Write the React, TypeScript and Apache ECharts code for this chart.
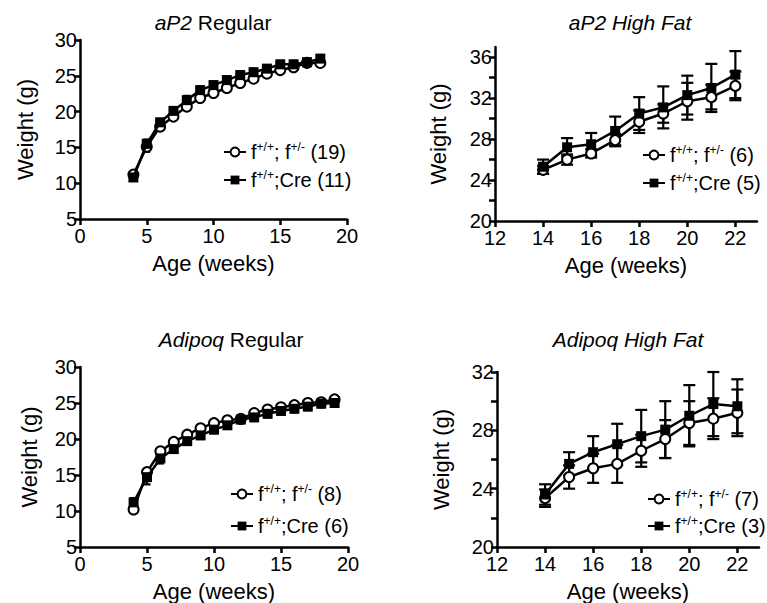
import React, { useEffect, useRef } from "react";
import * as echarts from "echarts";

// ---------- data ----------
const ageAp2Reg = [4, 5, 6, 7, 8, 9, 10, 11, 12, 13, 14, 15, 16, 17, 18];
const ap2RegCtrl = [11.2, 15.1, 17.9, 19.3, 20.7, 21.9, 22.6, 23.3, 24.0, 24.6, 25.3, 25.8, 26.2, 26.8, 26.8];
const ap2RegCtrlErr = [0.4, 0.7, 0.5, 0.4, 0.5, 0.4, 0.4, 0.4, 0.4, 0.4, 0.4, 0.4, 0.4, 0.4, 0.4];
const ap2RegCre = [10.8, 15.5, 18.5, 20.1, 21.6, 23.0, 23.7, 24.4, 25.1, 25.5, 26.0, 26.6, 26.6, 26.9, 27.4];
const ap2RegCreErr = [0.4, 0.6, 0.5, 0.5, 0.6, 0.5, 0.5, 0.5, 0.5, 0.5, 0.5, 0.5, 0.5, 0.5, 0.5];

const ageAp2HF = [14, 15, 16, 17, 18, 19, 20, 21, 22];
const ap2HFCtrl = [25.0, 26.0, 26.6, 27.9, 29.7, 30.5, 31.7, 32.1, 33.2];
const ap2HFCtrlErr = [0.4, 0.5, 0.4, 0.6, 1.1, 0.9, 1.8, 1.2, 1.4];
const ap2HFCre = [25.3, 27.2, 27.5, 28.8, 30.5, 31.1, 32.3, 33.0, 34.3];
const ap2HFCreErr = [0.7, 0.9, 1.1, 1.4, 1.6, 2.05, 1.9, 2.35, 2.3];

const ageAdiReg = [4, 5, 6, 7, 8, 9, 10, 11, 12, 13, 14, 15, 16, 17, 18, 19];
const adiRegCtrl = [10.2, 15.4, 18.3, 19.6, 20.6, 21.5, 22.2, 22.6, 22.8, 23.6, 24.1, 24.4, 24.7, 25.0, 25.1, 25.5];
const adiRegCtrlErr = [0.3, 0.5, 0.4, 0.4, 0.4, 0.4, 0.4, 0.4, 0.4, 0.4, 0.4, 0.4, 0.4, 0.4, 0.4, 0.4];
const adiRegCre = [11.2, 14.7, 17.3, 18.6, 19.7, 20.5, 21.3, 21.9, 22.7, 23.0, 23.5, 23.9, 24.2, 24.5, 24.9, 25.0];
const adiRegCreErr = [0.6, 1.0, 0.7, 0.5, 0.5, 0.5, 0.5, 0.5, 0.5, 0.5, 0.5, 0.5, 0.5, 0.5, 0.5, 0.5];

const ageAdiHF = [14, 15, 16, 17, 18, 19, 20, 21, 22];
const adiHFCtrl = [23.35, 24.8, 25.4, 25.7, 26.6, 27.4, 28.5, 28.8, 29.2];
const adiHFCtrlErr = [0.6, 0.8, 1.0, 1.3, 1.1, 1.3, 1.5, 1.4, 1.6];
const adiHFCre = [23.6, 25.7, 26.5, 27.05, 27.6, 28.05, 29.0, 29.8, 29.65];
const adiHFCreErr = [0.7, 0.8, 1.1, 1.4, 1.8, 1.95, 2.1, 2.2, 1.85];

const regXTicks = [0, 5, 10, 15, 20];
const regYTicks = [5, 10, 15, 20, 25, 30];
const hfXTicks = [12, 14, 16, 18, 20, 22];
const ap2HFYTicks = [20, 24, 28, 32, 36];
const ap2HFYMinor = [20, 22, 24, 26, 28, 30, 32, 34, 36];
const adiHFYTicks = [20, 24, 28, 32];
const adiHFYMinor = [20, 22, 24, 26, 28, 30, 32];

const titles = ["{i|aP2} Regular", "{i|aP2 High Fat}", "{i|Adipoq} Regular", "{i|Adipoq High Fat}"];
const legendNames = [
  ["f+/+; f+/- (19)", "f+/+;Cre (11)"],
  ["f+/+; f+/- (6)", "f+/+;Cre (5)"],
  ["f+/+; f+/- (8)", "f+/+;Cre (6)"],
  ["f+/+; f+/- (7)", "f+/+;Cre (3)"],
];

const FONT = "'Liberation Sans', Arial, Helvetica, sans-serif";

export default function App() {
  const ref = useRef<HTMLDivElement>(null);

  useEffect(() => {
    document.body.style.margin = "0";
    const chart = echarts.init(ref.current!, null, { renderer: "svg" });

    const panels = [
      { ages: ageAp2Reg, ctrl: ap2RegCtrl, ctrlErr: ap2RegCtrlErr, cre: ap2RegCre, creErr: ap2RegCreErr, cap: 7 },
      { ages: ageAp2HF, ctrl: ap2HFCtrl, ctrlErr: ap2HFCtrlErr, cre: ap2HFCre, creErr: ap2HFCreErr, cap: 12 },
      { ages: ageAdiReg, ctrl: adiRegCtrl, ctrlErr: adiRegCtrlErr, cre: adiRegCre, creErr: adiRegCreErr, cap: 7 },
      { ages: ageAdiHF, ctrl: adiHFCtrl, ctrlErr: adiHFCtrlErr, cre: adiHFCre, creErr: adiHFCreErr, cap: 12 },
    ];

    const grids = [
      { left: 80, top: 40, width: 267, height: 179 },
      { left: 495, top: 47, width: 262, height: 174 },
      { left: 80, top: 367, width: 268, height: 180 },
      { left: 497, top: 372, width: 262, height: 175 },
    ];

    const axisLine = { show: true, onZero: false, lineStyle: { color: "#000", width: 2.5 } };
    const tickLabel = { color: "#000", fontSize: 20, fontFamily: FONT };
    const nameStyle = { color: "#000", fontSize: 22, fontFamily: FONT };

    const xRanges = [
      { min: 0, max: 20, ticks: regXTicks },
      { min: 12, max: 22.9, ticks: hfXTicks },
      { min: 0, max: 20, ticks: regXTicks },
      { min: 12, max: 22.9, ticks: hfXTicks },
    ];
    const yRanges = [
      { min: 5, max: 30, ticks: regYTicks, minor: regYTicks },
      { min: 20, max: 37, ticks: ap2HFYTicks, minor: ap2HFYMinor },
      { min: 5, max: 30, ticks: regYTicks, minor: regYTicks },
      { min: 20, max: 32, ticks: adiHFYTicks, minor: adiHFYMinor },
    ];
    const yNameGaps = [44, 46, 40, 45];

    const xAxis = xRanges.map((r, i) => ({
      type: "value",
      gridIndex: i,
      min: r.min,
      max: r.max,
      name: "Age (weeks)",
      nameLocation: "middle",
      nameGap: 33,
      nameTextStyle: nameStyle,
      axisLine,
      axisTick: { show: true, length: 6, lineStyle: { color: "#000", width: 2.5 }, customValues: r.ticks },
      axisLabel: { ...tickLabel, margin: 7, customValues: r.ticks },
      splitLine: { show: false },
    }));

    const yAxis = yRanges.map((r, i) => ({
      type: "value",
      gridIndex: i,
      min: r.min,
      max: r.max,
      name: "Weight (g)",
      nameLocation: "middle",
      nameGap: yNameGaps[i],
      nameTextStyle: nameStyle,
      axisLine,
      axisTick: { show: true, length: 6, lineStyle: { color: "#000", width: 2.5 }, customValues: r.minor },
      axisLabel: { ...tickLabel, margin: 3, customValues: r.ticks },
      splitLine: { show: false },
    }));

    const errRender = (cap: number) => (params: any, api: any) => {
      const x = api.value(0);
      const lo = api.coord([x, api.value(1)]);
      const hi = api.coord([x, api.value(2)]);
      const st = { stroke: "#000", lineWidth: 2.2 };
      return {
        type: "group",
        children: [
          { type: "line", shape: { x1: lo[0], y1: lo[1], x2: hi[0], y2: hi[1] }, style: st },
          { type: "line", shape: { x1: lo[0] - cap / 2, y1: lo[1], x2: lo[0] + cap / 2, y2: lo[1] }, style: st },
          { type: "line", shape: { x1: hi[0] - cap / 2, y1: hi[1], x2: hi[0] + cap / 2, y2: hi[1] }, style: st },
        ],
      };
    };

    const series: any[] = [];
    panels.forEach((p, i) => {
      const mk = (vals: number[], errs: number[]) =>
        p.ages.map((a, k) => [a, vals[k] - errs[k], vals[k] + errs[k]]);
      series.push({
        type: "custom",
        xAxisIndex: i,
        yAxisIndex: i,
        renderItem: errRender(p.cap),
        encode: { x: 0, y: [1, 2] },
        data: mk(p.ctrl, p.ctrlErr),
        z: 1,
        silent: true,
      });
      series.push({
        type: "custom",
        xAxisIndex: i,
        yAxisIndex: i,
        renderItem: errRender(p.cap),
        encode: { x: 0, y: [1, 2] },
        data: mk(p.cre, p.creErr),
        z: 1,
        silent: true,
      });
      series.push({
        type: "line",
        name: legendNames[i][0],
        xAxisIndex: i,
        yAxisIndex: i,
        data: p.ages.map((a, k) => [a, p.ctrl[k]]),
        symbol: "circle",
        symbolSize: 10,
        showAllSymbol: true,
        lineStyle: { color: "#000", width: 2.5 },
        itemStyle: { color: "#fff", borderColor: "#000", borderWidth: 2 },
        z: 3,
      });
      series.push({
        type: "line",
        name: legendNames[i][1],
        xAxisIndex: i,
        yAxisIndex: i,
        data: p.ages.map((a, k) => [a, p.cre[k]]),
        symbol: "rect",
        symbolSize: 10,
        showAllSymbol: true,
        lineStyle: { color: "#000", width: 2.5 },
        itemStyle: { color: "#000", borderColor: "#000", borderWidth: 0 },
        z: 4,
      });
    });

    const legendPos = [
      { left: 223, top: 141, gap: 6 },
      { left: 642, top: 144, gap: 6 },
      { left: 230, top: 483, gap: 10 },
      { left: 647, top: 488, gap: 5 },
    ];
    const legend = legendNames.map((names, i) => ({
      orient: "vertical",
      left: legendPos[i].left,
      top: legendPos[i].top,
      padding: 0,
      itemWidth: 22,
      itemHeight: 11,
      itemGap: legendPos[i].gap,
      selectedMode: false,
      data: names,
      formatter: (n: string) => n.replace(/f\+\/([+\-])/g, "f{sup|+/$1}"),
      textStyle: {
        color: "#000",
        fontSize: 20,
        lineHeight: 22,
        fontFamily: FONT,
        rich: {
          sup: { fontSize: 12, fontFamily: FONT, color: "#000", verticalAlign: "top", lineHeight: 22 },
        },
      },
    }));

    const titleX = [213, 630, 231, 628];
    const titleY = [12, 12, 329, 329];
    const title = titles.map((t, i) => ({
      text: t,
      left: titleX[i],
      top: titleY[i],
      padding: 0,
      textAlign: "center",
      textStyle: {
        color: "#000",
        fontSize: 21,
        fontWeight: "normal",
        fontFamily: FONT,
        rich: { i: { fontStyle: "italic", fontSize: 21, fontFamily: FONT, color: "#000" } },
      },
    }));

    chart.setOption({
      animation: false,
      backgroundColor: "#fff",
      title,
      legend,
      grid: grids,
      xAxis,
      yAxis,
      series,
    });

    return () => chart.dispose();
  }, []);

  return <div ref={ref} style={{ width: 767, height: 603 }} />;
}
